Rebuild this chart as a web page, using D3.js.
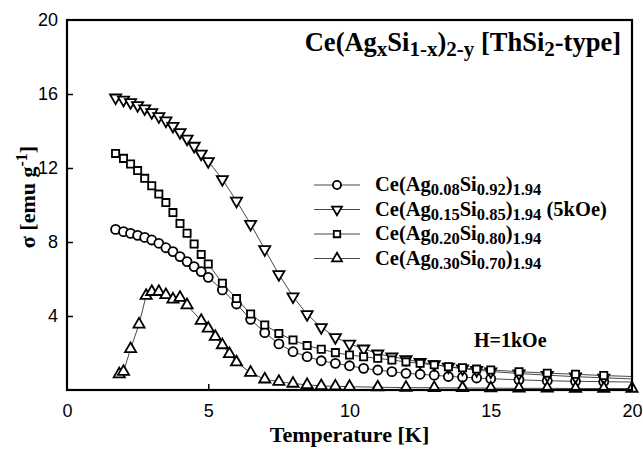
<!DOCTYPE html>
<html><head><meta charset="utf-8">
<script src="https://cdn.jsdelivr.net/npm/d3@7"></script>
<style>body{margin:0;background:#fff}svg{display:block}</style>
</head><body><svg id="c" width="643" height="449"></svg>
<script>
// ---- data ----
const tempMain = [1.72,2.0,2.25,2.5,2.75,3.0,3.25,3.5,3.75,4.0,4.25,4.5,4.75,5.0,5.5,6.0,6.5,7.0,7.5,8.0,8.5,9.0,9.5,10,10.5,11,11.5,12,12.5,13,13.5,14,14.5,15,16,17,18,19,20];
const sigmaAg008 = [8.68,8.56,8.47,8.36,8.25,8.11,7.93,7.69,7.48,7.21,6.94,6.67,6.40,6.09,5.41,4.65,3.82,3.10,2.49,2.07,1.80,1.58,1.44,1.31,1.17,1.08,0.99,0.90,0.85,0.80,0.73,0.70,0.65,0.61,0.55,0.50,0.47,0.45,0.43];
const sigmaAg015 = [15.80,15.68,15.55,15.39,15.21,15.01,14.79,14.56,14.27,13.93,13.58,13.19,12.77,12.36,11.39,10.22,8.97,7.60,6.25,5.05,4.09,3.39,2.85,2.49,2.23,1.96,1.80,1.66,1.51,1.39,1.25,1.15,1.07,1.00,0.89,0.80,0.72,0.66,0.60];
const sigmaAg020 = [12.79,12.52,12.22,11.86,11.44,11.04,10.59,10.13,9.59,9.00,8.47,7.89,7.33,6.81,5.77,4.94,4.11,3.51,3.06,2.70,2.40,2.20,2.02,1.89,1.80,1.71,1.62,1.52,1.44,1.36,1.26,1.20,1.13,1.08,0.99,0.91,0.85,0.78,0.73];
const tempAg030 = [1.85,2.0,2.25,2.55,2.8,3.0,3.25,3.5,3.75,4.0,4.25,4.75,5.0,5.25,5.5,5.75,6.0,6.5,7.0,7.5,8.0,8.5,9.0,9.5,10,11,12,13,14,15,16,17,18,19,20];
const sigmaAg030 = [0.86,0.99,2.22,3.55,5.10,5.31,5.31,5.14,4.90,4.99,4.59,3.75,3.33,2.88,2.43,1.95,1.50,0.94,0.58,0.45,0.35,0.28,0.22,0.20,0.18,0.15,0.13,0.12,0.11,0.10,0.09,0.09,0.08,0.08,0.08];
const xTicks = [0,5,10,15,20];
const yTicks = [4,8,12,16,20];
const legendLabels = [
  "Ce(Ag_{0.08}Si_{0.92})_{1.94}",
  "Ce(Ag_{0.15}Si_{0.85})_{1.94} (5kOe)",
  "Ce(Ag_{0.20}Si_{0.80})_{1.94}",
  "Ce(Ag_{0.30}Si_{0.70})_{1.94}"
];
const titleText = "Ce(Ag_{x}Si_{1-x})_{2-y} [ThSi_{2}-type]";
const fieldText = "H=1kOe";
const xLabel = "Temperature [K]";
const yLabel = "σ [emu g^{-1}]";

// ---- layout ----
const svg = d3.select("#c");
const L = 67, R = 632, T = 20, B = 390;
const x = d3.scaleLinear().domain([0,20]).range([L,R]);
const y = d3.scaleLinear().domain([0,20]).range([B,T]);

const series = [
  {t: tempMain, s: sigmaAg008, sym: d3.symbolCircle, size: 64, rot: 0, markEnd: false},
  {t: tempMain, s: sigmaAg015, sym: d3.symbolTriangle, size: 54, rot: 180, markEnd: false},
  {t: tempMain, s: sigmaAg020, sym: d3.symbolSquare, size: 52, rot: 0, markEnd: false},
  {t: tempAg030, s: sigmaAg030, sym: d3.symbolTriangle, size: 54, rot: 0, markEnd: true}
];

function rich(sel, str, sub) {
  const re = /(_\{[^}]*\}|\^\{[^}]*\}|[^_^]+)/g;
  let m, shift = 0;
  while ((m = re.exec(str)) !== null) {
    const p = m[0];
    let txt = p, target = 0, small = false;
    if (p.startsWith("_{")) { txt = p.slice(2,-1); target = sub.down; small = true; }
    else if (p.startsWith("^{")) { txt = p.slice(2,-1); target = -sub.up; small = true; }
    const ts = sel.append("tspan").text(txt).attr("dy", target - shift);
    if (small) ts.attr("font-size", sub.size);
    shift = target;
  }
}

// axes
const gx = svg.append("g").attr("transform",`translate(0,${B})`)
  .call(d3.axisBottom(x).tickValues(xTicks).tickSize(-6).tickPadding(14));
const gy = svg.append("g").attr("transform",`translate(${L},0)`)
  .call(d3.axisLeft(y).tickValues(yTicks).tickSize(-6).tickPadding(9));
[gx,gy].forEach(g=>{
  g.select(".domain").remove();
  g.selectAll("line").attr("stroke","#000").attr("stroke-width",1.5);
  g.selectAll("text").attr("font-family","Liberation Sans, Arial, sans-serif").attr("font-size",18).attr("fill","#000");
});
gx.selectAll(".tick").filter(d=>d===0||d===20).select("line").remove();
gy.selectAll(".tick").filter(d=>d===20).select("line").remove();

// lines & markers
series.forEach(se=>{
  const pts = se.t.map((t,i)=>[t, se.s[i]]);
  svg.append("path").datum(pts)
    .attr("d", d3.line().x(d=>x(d[0])).y(d=>y(d[1])))
    .attr("fill","none").attr("stroke","#333").attr("stroke-width",0.9);
  const mpts = se.markEnd ? pts : pts.filter(d=>d[0] < 20);
  svg.append("g").selectAll("path").data(mpts).join("path")
    .attr("d", d3.symbol().type(se.sym).size(se.size))
    .attr("transform", d=>`translate(${x(d[0])},${y(d[1])}) rotate(${se.rot})`)
    .attr("fill","#fff").attr("stroke","#000").attr("stroke-width",1.8);
});

// frame
svg.append("rect").attr("x",L).attr("y",T).attr("width",R-L).attr("height",B-T)
  .attr("fill","none").attr("stroke","#000").attr("stroke-width",2.2);

const serif = "Liberation Serif, Times New Roman, serif";

// title
const tt = svg.append("text").attr("x",621).attr("y",51).attr("text-anchor","end")
  .attr("font-family",serif).attr("font-weight","bold").attr("font-size",26.5);
rich(tt, titleText, {down:5, up:9, size:21});

// legend
const legY0 = 185, legDy = 24.5;
legendLabels.forEach((lab,i)=>{
  const yy = legY0 + i*legDy;
  const se = series[i];
  svg.append("line").attr("x1",314).attr("x2",360).attr("y1",yy).attr("y2",yy)
    .attr("stroke","#333").attr("stroke-width",0.9);
  svg.append("path").attr("d", d3.symbol().type(se.sym).size(se.size*0.8)())
    .attr("transform",`translate(337,${yy}) rotate(${se.rot})`)
    .attr("fill","#fff").attr("stroke","#000").attr("stroke-width",1.8);
  const t = svg.append("text").attr("x",375).attr("y",yy+6)
    .attr("font-family",serif).attr("font-weight","bold").attr("font-size",20.5);
  rich(t, lab, {down:4, up:8, size:16.5});
});

// field annotation
svg.append("text").attr("x",474).attr("y",347).attr("font-family",serif)
  .attr("font-weight","bold").attr("font-size",20).text(fieldText);

// axis titles
svg.append("text").attr("x",(L+R)/2).attr("y",442).attr("text-anchor","middle")
  .attr("font-family",serif).attr("font-weight","bold").attr("font-size",22).text(xLabel);
const yl = svg.append("text").attr("transform",`translate(35,197) rotate(-90)`)
  .attr("text-anchor","middle").attr("font-family",serif).attr("font-weight","bold").attr("font-size",22);
rich(yl, yLabel, {down:4, up:8, size:16});
</script></body></html>
